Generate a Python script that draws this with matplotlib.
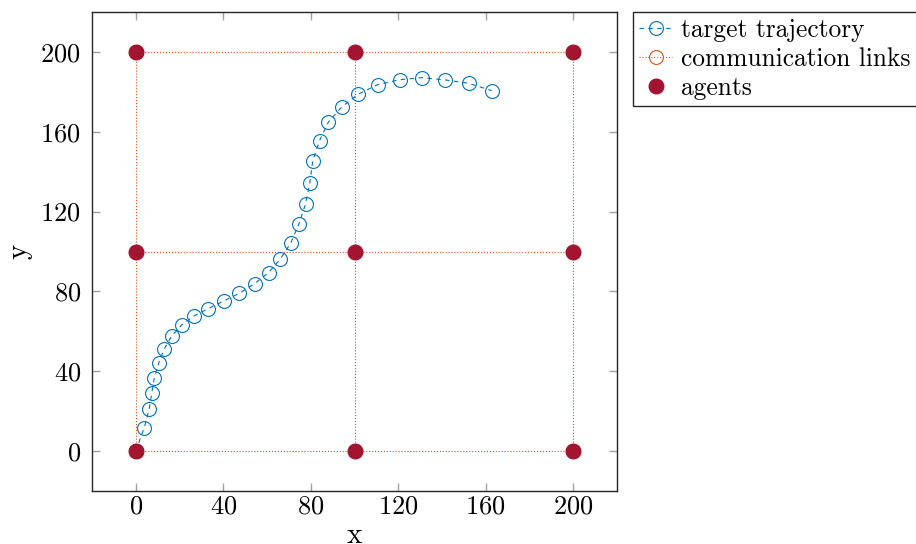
import numpy as np
import matplotlib
matplotlib.use("Agg")
import matplotlib.pyplot as plt

# target path sampled along the trajectory
traj_x = [0, 3.8, 6.1, 7.3, 8.5, 10.5, 12.9, 16.4, 21.0, 26.6, 33.0, 40.2, 47.3, 54.3,
          60.7, 66.0, 70.8, 74.6, 77.6, 79.6, 80.9, 84.0, 88.1, 94.1, 101.7, 110.6,
          120.7, 130.7, 141.2, 152.2, 162.7]
traj_y = [0, 11.4, 20.9, 28.9, 36.7, 44.0, 51.0, 57.6, 63.2, 67.7, 71.3, 75.2, 79.0, 83.9,
          89.4, 96.1, 104.1, 113.8, 123.8, 134.5, 145.4, 155.5, 164.9, 172.4, 178.8,
          183.6, 186.1, 187.1, 186.0, 184.3, 180.6]

# agents on a 3x3 grid
grid = [0, 100, 200]
agent_x = [gx for gx in grid for gy in grid]
agent_y = [gy for gx in grid for gy in grid]

ticks = [0, 40, 80, 120, 160, 200]

blue = '#0072BD'
orange = '#D95319'
red = '#A2142F'

plt.rcParams['font.family'] = 'cmr10'
plt.rcParams['axes.formatter.use_mathtext'] = True
plt.rcParams['font.size'] = 19

fig = plt.figure(figsize=(9.16, 5.44), dpi=100)
ax = fig.add_axes([92 / 916, 1 - 491 / 544, 525 / 916, 479 / 544])

# communication links between neighbouring agents
first = True
for g in grid:
    lbl = 'communication links' if first else None
    ax.plot([0, 200], [g, g], ':', color=orange, lw=0.8, marker='o', ms=10,
            mfc='none', mec=orange, mew=0.8, label=lbl, zorder=2)
    ax.plot([g, g], [0, 200], ':', color=orange, lw=0.8, marker='o', ms=10,
            mfc='none', mec=orange, mew=0.8, zorder=2)
    first = False

ax.plot(traj_x, traj_y, '--', color=blue, lw=0.8, dashes=(4, 4), marker='o', ms=10,
        mfc='none', mec=blue, mew=0.8, label='target trajectory', zorder=3)

ax.plot(agent_x, agent_y, 'o', color=red, ms=10.5, ls='none', label='agents', zorder=4)

ax.set_xlim(-20, 220)
ax.set_ylim(-20, 220)
ax.set_xticks(ticks)
ax.set_yticks(ticks)
ax.tick_params(direction='in', length=6, width=1, color='#a0a0a0',
               top=True, right=True, labelsize=19)
ax.tick_params(axis='x', pad=3)
ax.tick_params(axis='y', pad=8)
for s in ax.spines.values():
    s.set_color('#262626')
    s.set_linewidth(1.0)
ax.set_xlabel('x', fontsize=21, labelpad=3)
ax.set_ylabel('y', fontsize=21, labelpad=6)

h, l = ax.get_legend_handles_labels()
order = [l.index('target trajectory'), l.index('communication links'), l.index('agents')]
leg = ax.legend([h[i] for i in order], [l[i] for i in order],
                loc='upper left', bbox_to_anchor=(633 / 916, 1 - 12 / 544),
                bbox_transform=fig.transFigure, borderaxespad=0, fancybox=False,
                framealpha=1, edgecolor='#262626', fontsize=18.3, handlelength=1.3,
                handletextpad=0.35, borderpad=0.25, labelspacing=0.2)
leg.get_frame().set_linewidth(1.0)

fig.savefig('out.png', dpi=100)
